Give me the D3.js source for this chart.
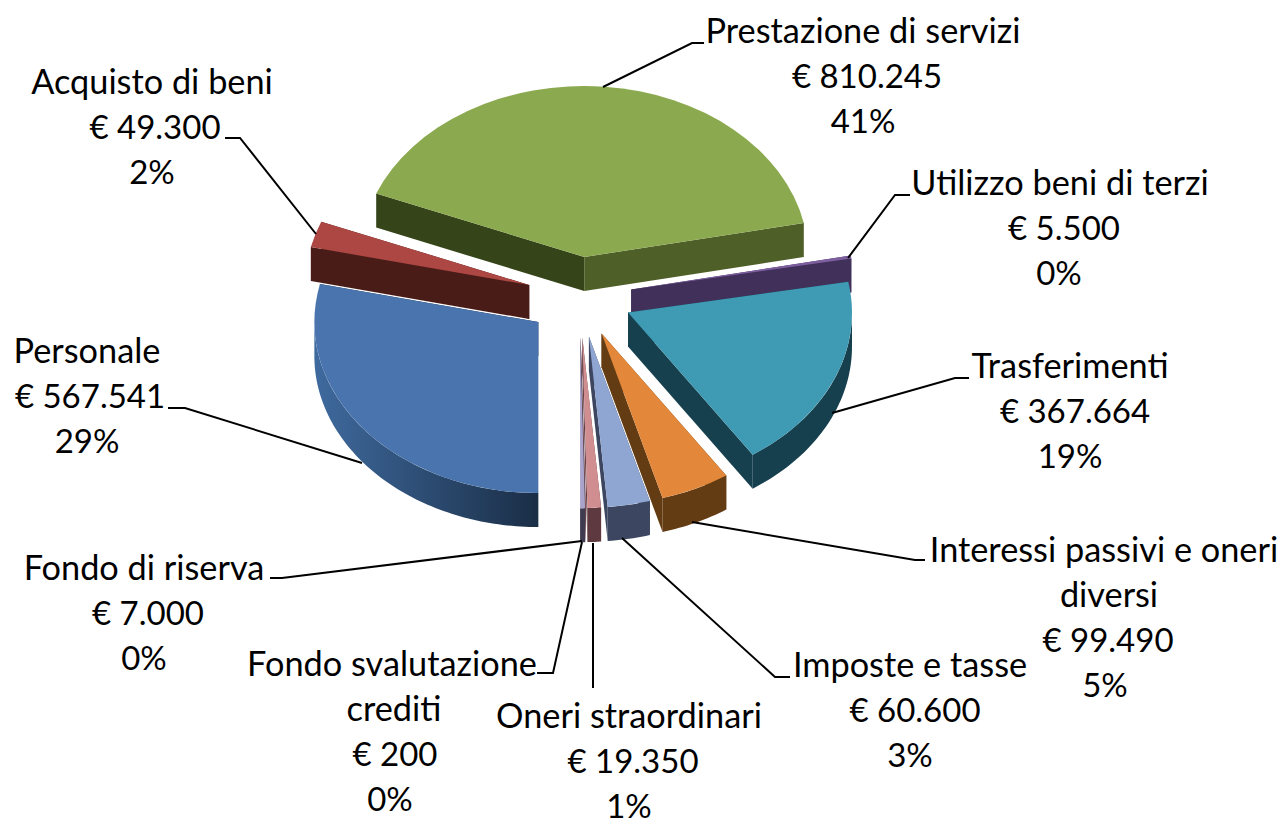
<!DOCTYPE html>
<html><head><meta charset="utf-8">
<style>html,body{margin:0;padding:0;background:#fff}svg{display:block}text{font-family:Lato,"Open Sans",sans-serif;fill:#000}</style>
<script src="https://cdn.jsdelivr.net/npm/d3@7"></script></head>
<body><svg id="c" width="1286" height="819"></svg>
<script>
const categories=["Prestazione di servizi","Utilizzo beni di terzi","Trasferimenti","Interessi passivi e oneri diversi","Imposte e tasse","Oneri straordinari","Fondo svalutazione crediti","Fondo di riserva","Personale","Acquisto di beni"];
const values=[810245,5500,367664,99490,60600,19350,200,7000,567541,49300];
const topColors=["#8ba94f","#7d5fa0","#3f9ab3","#e3883a","#8fa6d2","#d08e91","#c0504d","#aaa4cc","#4974ad","#ad4744"];
const startWall=["#364519","#41305a","#17404f","#643c14","#3c4660","#5e3a40","#5e3a40","#3f3b50","#1b2e47","#4a1c18"];
const endWall=["#4f5f28","#41305a","#17404f","#643c14","#3c4660","#5e3a40","#5e3a40","#3f3b50","#1b2e47","#4a1c18"];
const arcWallA=["#4f5f28","#41305a","#17404f","#643c14","#3c4660","#5e3a40","#5e3a40","#3f3b50","#1a2e46","#4a1c18"];
const arcWallB=["#4f5f28","#41305a","#17404f","#643c14","#3c4660","#5e3a40","#5e3a40","#3f3b50","#3f6a9e","#4a1c18"];
// label layout: line centres, first-line centre y, leader polyline
const labelLines=[["Prestazione di servizi"],["Utilizzo beni di terzi"],["Trasferimenti"],["Interessi passivi e oneri","diversi"],["Imposte e tasse"],["Oneri straordinari"],["Fondo svalutazione","crediti"],["Fondo di riserva"],["Personale"],["Acquisto di beni"]];
const labelX=[[863,867,863],[1060,1064,1059],[1070,1075,1070],[1104,1109,1108,1105],[910,915,910],[629,633,629],[392,394,395,390],[144,148,144],[87,90,87],[152,155,152]];
const labelY=[31,183,366,550,665,716,664,568,351,82];
const leaders=[[[603,87],[692,43],[704,43]],[[848,258],[895,195],[910,195]],[[832,413],[955,378],[969,378]],[[692,522],[915,560],[925,560]],[[622,538],[775,677],[790,677]],[[593,543],[593,688]],[[582,542],[553,673],[537,673]],[[582,541],[282,578],[270,578]],[[362,463],[185,408],[168,408]],[[316,234],[240,138],[225,138]]];

const W=1286,H=819,cx=579.5,cy=297,rx=224,ry=171,depth=34,explode=0.235,lineGap=45.3,nameSize=34.3,numberSize=33;
const svg=d3.select("#c");
const defs=svg.append("defs");
const total=d3.sum(values);
// the chart is rotated so that "Personale" starts pointing straight down
const firstAngle=Math.PI-2*Math.PI*d3.sum(values.slice(0,categories.indexOf("Personale")))/total;
const euro=d3.formatLocale({decimal:",",thousands:".",grouping:[3],currency:["€ ",""]}).format("$,");
const pct=d3.format(".0%");
const pie=d3.pie().sort(null).startAngle(firstAngle).endAngle(firstAngle+2*Math.PI);
const arcs=pie(values).map((d,i)=>{
  const mid=(d.startAngle+d.endAngle)/2;
  return {...d,i,mid,ax:cx+explode*rx*Math.sin(mid),ay:cy-explode*ry*Math.cos(mid)};
});
const arcGen=d3.arc().innerRadius(0).outerRadius(rx);
const line=d3.line();
const pt=(s,a)=>[s.ax+rx*Math.sin(a),s.ay-ry*Math.cos(a)];
const g=svg.append("g");
const order=arcs.slice().sort((a,b)=>d3.descending(Math.cos(a.mid),Math.cos(b.mid)));
order.forEach(s=>{
  const sl=g.append("g");
  const wall=(a,col)=>{const p=pt(s,a);
    sl.append("path").attr("d",line([[s.ax,s.ay],p,[p[0],p[1]+depth],[s.ax,s.ay+depth]])+"Z").attr("fill",col);};
  wall(s.startAngle,startWall[s.i]);
  wall(s.endAngle,endWall[s.i]);
  // the curved wall only shows on the front half of the ellipse
  const a0=Math.max(s.startAngle,Math.PI/2),a1=Math.min(s.endAngle,1.5*Math.PI);
  if(a1>a0){
    const n=Math.max(4,Math.ceil((a1-a0)/0.02));
    const as=d3.range(n+1).map(k=>a0+(a1-a0)*k/n);
    const up=as.map(a=>pt(s,a));
    const dn=as.map(a=>{const p=pt(s,a);return [p[0],p[1]+depth];}).reverse();
    const id="w"+s.i;
    const xs=up.map(p=>p[0]);
    const gr=defs.append("linearGradient").attr("id",id).attr("gradientUnits","userSpaceOnUse")
      .attr("x1",d3.max(xs)).attr("x2",d3.min(xs)).attr("y1",0).attr("y2",0);
    gr.append("stop").attr("offset",0).attr("stop-color",arcWallA[s.i]);
    gr.append("stop").attr("offset",1).attr("stop-color",arcWallB[s.i]);
    sl.append("path").attr("d",line(up.concat(dn))+"Z").attr("fill",`url(#${id})`);
  }
  sl.append("path").attr("d",arcGen(s))
    .attr("transform",`translate(${s.ax},${s.ay}) scale(1,${ry/rx})`)
    .attr("fill",topColors[s.i]);
});
const lg=svg.append("g");
leaders.forEach(l=>lg.append("path").attr("d",line(l)).attr("fill","none").attr("stroke","#000").attr("stroke-width",2));
const tg=svg.append("g");
categories.forEach((c,i)=>{
  const names=labelLines[i];
  const lines=names.concat([euro(values[i]),pct(values[i]/total)]);
  lines.forEach((t,k)=>{
    tg.append("text").attr("x",labelX[i][k]).attr("y",labelY[i]+k*lineGap).attr("dy","0.35em")
      .attr("font-size",k<names.length?nameSize:numberSize).attr("text-anchor","middle").text(t);
  });
});
</script></body></html>
